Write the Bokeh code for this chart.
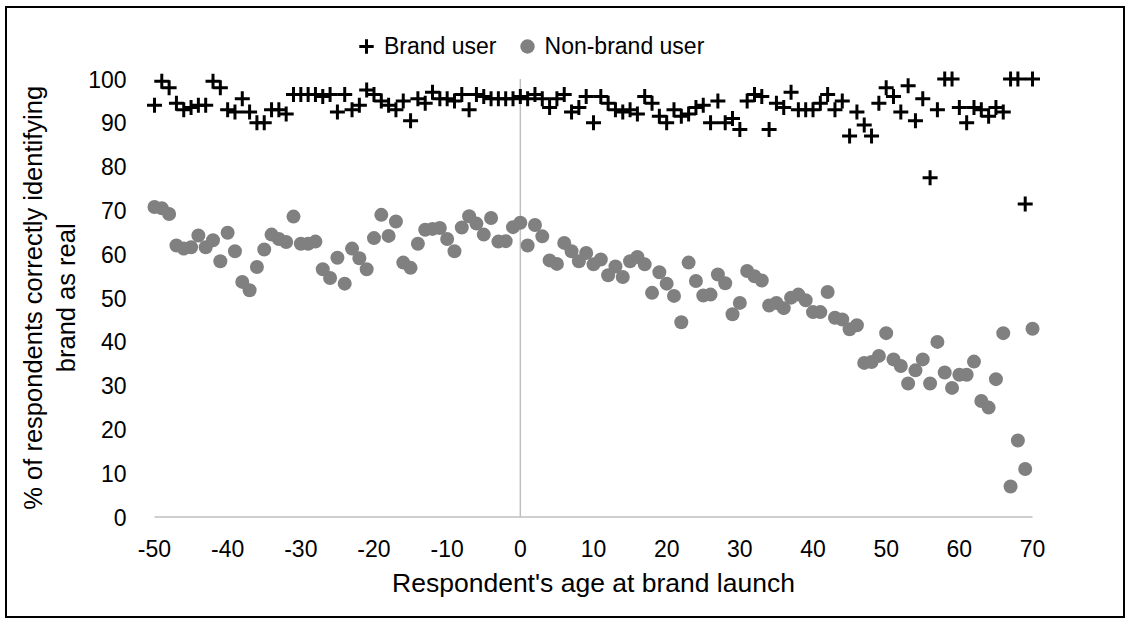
from bokeh.plotting import figure
from bokeh.models import FixedTicker, Legend, LegendItem, Range1d
from bokeh.embed import file_html
from bokeh.resources import INLINE

ages = list(range(-50, 71))

brand_user = [
    94, 99.5, 98, 94.5, 93, 93.5, 94, 94, 99.5, 98,          # -50..-41
    93, 92.5, 95.5, 92.5, 90, 90, 93, 93, 92, 96.5,          # -40..-31
    96.5, 96.5, 96.5, 96, 96.5, 92.5, 96.5, 93, 94, 97.5,    # -30..-21
    96.5, 95, 94, 93, 95, 90.5, 95.5, 94.5, 97, 95.5,        # -20..-11
    95.5, 95, 96.5, 93, 96.5, 96, 95.5, 95.5, 95.5, 95.5,    # -10..-1
    96, 95.5, 96.5, 95.5, 93.5, 95.5, 96.5, 92.5, 93.5, 96,  # 0..9
    90, 96, 94.5, 93, 92.5, 93, 92, 96, 94.5, 91.5,          # 10..19
    90, 93, 91.5, 92, 93.5, 94, 90, 95, 90, 91,              # 20..29
    88.5, 95, 96.5, 96, 88.5, 94.5, 93.5, 97, 93, 93,        # 30..39
    93, 94.5, 96.5, 93, 95, 87, 92.5, 89.5, 87, 94.5,        # 40..49
    98, 96, 92.5, 98.5, 90.5, 95.5, 77.5, 93, 100, 100,      # 50..59
    93.5, 90, 93.5, 93, 91.5, 93.5, 92.5, 100, 100, 71.5,    # 60..69
    100,                                                     # 70
]

non_brand_user = [
    70.8, 70.5, 69.2, 62, 61.3, 61.6, 64.3, 61.6, 63.2, 58.4,    # -50..-41
    64.9, 60.7, 53.7, 51.8, 57.1, 61.1, 64.5, 63.5, 62.8, 68.6,  # -40..-31
    62.4, 62.4, 62.9, 56.6, 54.6, 59.2, 53.3, 61.3, 59.1, 56.6,  # -30..-21
    63.7, 69, 64.2, 67.5, 58.1, 56.9, 62.4, 65.6, 65.8, 66,      # -20..-11
    63.5, 60.7, 66.1, 68.7, 67, 64.5, 68.3, 62.9, 63, 66.2,      # -10..-1
    67.2, 62, 66.7, 64.1, 58.6, 57.8, 62.6, 60.7, 58.4, 60.3,    # 0..9
    57.7, 58.8, 55.2, 57.2, 54.8, 58.4, 59.4, 57.7, 51.2, 55.9,  # 10..19
    53.3, 50.5, 44.5, 58.1, 53.9, 50.6, 50.8, 55.4, 53.4, 46.3,  # 20..29
    48.9, 56.2, 55, 54, 48.3, 48.9, 47.7, 50.1, 50.8, 49.5,      # 30..39
    46.8, 46.8, 51.4, 45.5, 45.1, 42.9, 43.8, 35.2, 35.4, 36.8,  # 40..49
    42, 36, 34.5, 30.5, 33.5, 36, 30.5, 40, 33, 29.5,            # 50..59
    32.5, 32.5, 35.5, 26.5, 25, 31.5, 42, 7, 17.5, 11,           # 60..69
    43,                                                          # 70
]

x_ticks = list(range(-50, 71, 10))
y_ticks = list(range(0, 101, 10))

FONT = "Liberation Sans"
AXIS_GRAY = "#BFBFBF"

X0, X1 = -51.5, 71.5
W, H = 1120, 612
BL, BR, BT, BB = 136, 84, 18, 99

p = figure(
    width=W, height=H,
    output_backend="svg", toolbar_location=None,
    x_range=Range1d(X0, X1), y_range=Range1d(-1, 112),
    min_border_left=BL, min_border_right=BR,
    min_border_top=BT, min_border_bottom=BB,
    background_fill_color="white", border_fill_color="white",
)
p.styles = {"border": "2px solid black", "box-sizing": "border-box",
            "margin-left": "5px", "margin-top": "6px"}
p.outline_line_color = None
p.xgrid.visible = False
p.ygrid.visible = False

# axis lines drawn as Excel does: horizontal at y=0, vertical at x=0
p.segment(x0=[x_ticks[0]], y0=[0], x1=[x_ticks[-1]], y1=[0],
          line_color=AXIS_GRAY, line_width=1.5)
p.segment(x0=[0], y0=[y_ticks[0]], x1=[0], y1=[y_ticks[-1]],
          line_color=AXIS_GRAY, line_width=1.5)

r_brand = p.scatter(ages, brand_user, marker="cross", size=15,
                    line_color="black", line_width=3)
r_non = p.scatter(ages, non_brand_user, marker="circle", size=14,
                  fill_color="#808080", line_color=None)

# x axis
xa = p.xaxis[0]
xa.ticker = FixedTicker(ticks=x_ticks)
xa.major_label_overrides = {t: str(t) for t in x_ticks}
xa.axis_line_color = None
xa.major_tick_line_color = None
xa.minor_tick_line_color = None
xa.major_label_standoff = 12
xa.major_label_text_font = FONT
xa.major_label_text_font_size = "23px"
xa.major_label_text_color = "black"
xa.axis_label = "Respondent's age at brand launch"
xa.axis_label_text_font = FONT
xa.axis_label_text_font_size = "26.5px"
xa.axis_label_text_font_style = "normal"
xa.axis_label_text_color = "black"
xa.axis_label_standoff = 8

# y axis; trailing no-break spaces shift the centred title down so that it
# is centred on the 0-100 span rather than on the taller frame
pad = "\u00a0" * 6 + "\u2009"
ya = p.yaxis[0]
ya.ticker = FixedTicker(ticks=y_ticks)
ya.major_label_overrides = {t: str(t) for t in y_ticks}
ya.axis_line_color = None
ya.major_tick_line_color = None
ya.minor_tick_line_color = None
ya.major_label_standoff = 11
ya.major_label_text_font = FONT
ya.major_label_text_font_size = "23px"
ya.major_label_text_color = "black"
ya.axis_label = ("% of respondents correctly identifying" + pad + "\n"
                 + "brand as real" + pad)
ya.axis_label_text_font = FONT
ya.axis_label_text_font_size = "25.5px"
ya.axis_label_text_font_style = "normal"
ya.axis_label_text_color = "black"
ya.axis_label_standoff = 5

legend = Legend(
    items=[LegendItem(label="Brand user", renderers=[r_brand]),
           LegendItem(label="Non-brand user", renderers=[r_non])],
    orientation="horizontal", location=(205, 457),
    border_line_color=None, background_fill_alpha=0,
    label_text_font=FONT, label_text_font_size="23px",
    label_text_color="black",
    glyph_width=36, glyph_height=36, label_standoff=-12, spacing=12,
    margin=0, padding=0,
)
p.add_layout(legend, "center")

open("out.html", "w").write(file_html(p, INLINE))
